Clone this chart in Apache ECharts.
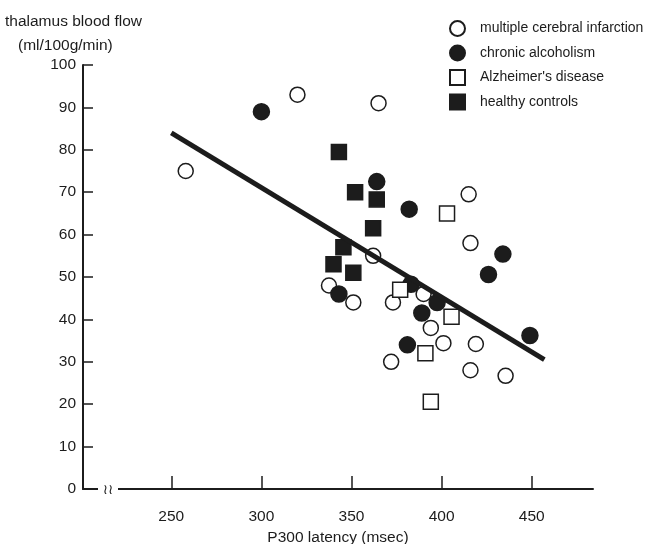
<!DOCTYPE html>
<html>
<head>
<meta charset="utf-8">
<script src="https://cdn.jsdelivr.net/npm/echarts@6/dist/echarts.min.js"></script>
<style>
    html, body { margin: 0; padding: 0; background: #fff; }
    #scatterChart { width: 646px; height: 544px; }
</style>
</head>
<body>
<div id="scatterChart"></div>
<script>
// 数据 (x: P300 latency msec, y: thalamus blood flow)
var seriesNames = ["multiple cerebral infarction", "chronic alcoholism", "Alzheimer's disease", "healthy controls"];
var mciData = [[258,75],[320,93],[365,91],[415,69.5],[416,58],[362,55],[337.5,48],[351,44],[373,44],[390,46],[394,38],[401,34.4],[419,34.2],[372,30],[416,28],[435.5,26.7]];
var alcData = [[300,89],[364,72.5],[382,66],[343,46],[383,48.3],[389,41.5],[397.5,44],[381,34],[426,50.6],[434,55.4],[449,36.2]];
var adData = [[403,65],[377,47],[405.5,40.6],[391,32],[394,20.6]];
var hcData = [[343,79.5],[352,70],[364,68.3],[362,61.5],[345.5,57],[340,53],[351,51]];
var fitLine = [[250,84],[457,30.5]];
var xTicks = [250,300,350,400,450];

var ink = "#1c1c1c";
var font = "Liberation Sans";

function pointSeries(name, data, symbol, filled, size) {
    return {
        name: name,
        type: "scatter",
        data: data,
        symbol: symbol,
        symbolSize: size,
        z: 2,
        itemStyle: {
            color: filled ? ink : "#fff",
            borderColor: ink,
            borderWidth: 1.5,
            opacity: 1
        }
    };
}

function initScatterChart() {
    var chart = echarts.init(document.getElementById("scatterChart"));
    var option = {
        animation: false,
        backgroundColor: "#fff",
        grid: { left: 83, right: 53, top: 65, bottom: 55, outerBoundsMode: "none" },
        legend: {
            data: seriesNames,
            orient: "vertical",
            left: 444,
            top: 15,
            itemWidth: 15,
            itemHeight: 15,
            itemGap: 7.5,
            textStyle: { fontFamily: font, fontSize: 14, color: ink, padding: [0, 0, 0, 10] }
        },
        xAxis: {
            type: "value",
            min: 201,
            max: 484,
            name: "P300 latency (msec)",
            nameLocation: "middle",
            nameGap: 38,
            nameTextStyle: { fontFamily: font, fontSize: 15.5, color: ink },
            axisLine: { show: true, lineStyle: { color: ink, width: 2 } },
            axisTick: { show: true, inside: true, length: 13, customValues: xTicks, lineStyle: { color: ink, width: 1.5 } },
            axisLabel: { customValues: xTicks, margin: 20, fontFamily: font, fontSize: 15.5, color: ink },
            splitLine: { show: false }
        },
        yAxis: {
            type: "value",
            min: 0,
            max: 100,
            interval: 10,
            axisLine: { show: true, lineStyle: { color: ink, width: 2 } },
            axisTick: { show: true, inside: true, length: 10, lineStyle: { color: ink, width: 1.5 } },
            axisLabel: { margin: 7, fontFamily: font, fontSize: 15.5, color: ink },
            splitLine: { show: false }
        },
        graphic: [
            // y轴标题
            { type: "text", left: 5, top: 14, style: { text: "thalamus blood flow", font: "15.5px " + font, fill: ink } },
            { type: "text", left: 18, top: 38, style: { text: "(ml/100g/min)", font: "15.5px " + font, fill: ink } },
            // x轴断开
            { type: "rect", shape: { x: 98, y: 482, width: 20, height: 14 }, style: { fill: "#fff" }, z: 100 },
            { type: "text", x: 108, y: 490, style: { text: "\u2240\u2240", font: "14px DejaVu Sans", fill: ink, align: "center", verticalAlign: "middle" }, z: 101 }
        ],
        series: [
            pointSeries(seriesNames[0], mciData, "circle", false, 15),
            pointSeries(seriesNames[1], alcData, "circle", true, 16),
            pointSeries(seriesNames[2], adData, "rect", false, 15),
            pointSeries(seriesNames[3], hcData, "rect", true, 15),
            {
                name: "fit",
                type: "line",
                data: fitLine,
                symbol: "none",
                z: 3,
                lineStyle: { color: ink, width: 5 }
            }
        ]
    };
    chart.setOption(option);
}

initScatterChart();
</script>
</body>
</html>
